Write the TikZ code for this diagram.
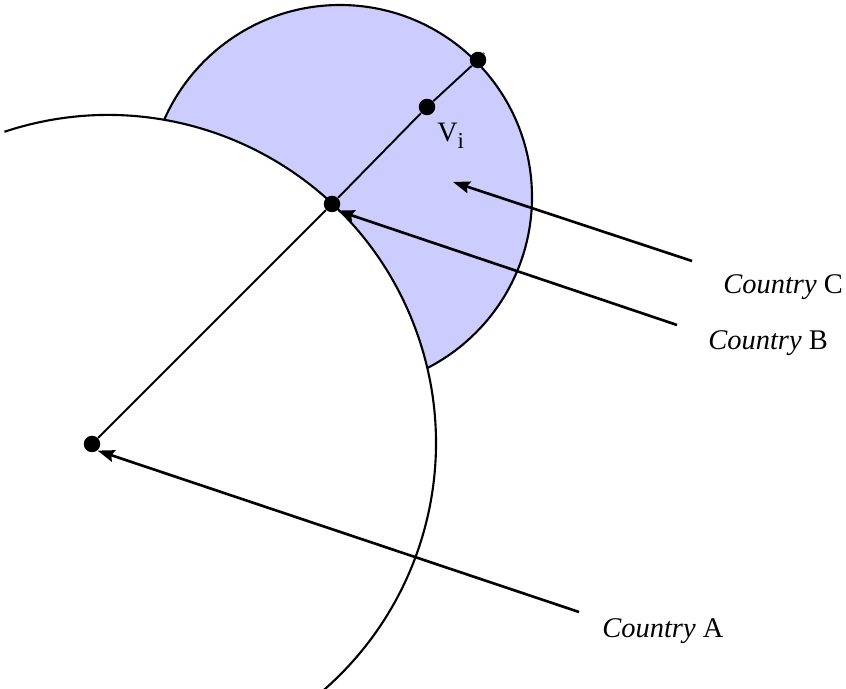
\documentclass[tikz,border=0pt]{standalone}
\usepackage{fontspec}
\setmainfont{Liberation Serif}
\usepackage{tikz}
\usetikzlibrary{arrows.meta,calc}
\definecolor{regionblue}{HTML}{CCCCFF}

\begin{document}
\begin{tikzpicture}[
    dot/.style={circle,fill=black,inner sep=0pt,minimum size=0.33cm},
    pointer/.style={line width=1.5pt,-{Stealth[length=0.34cm,width=0.24cm,inset=0.05cm]}},
    country/.style={anchor=base west,inner sep=0pt,font=\fontsize{16.2}{19}\selectfont}
  ]
    \useasboundingbox (0,0) rectangle (16.92,13.78);
    % shaded part of the small circle
    \fill[regionblue,draw=black,line width=1.2pt] (6.80,9.84) circle (3.84);
    \fill[white] (2.16,4.92) circle (6.56);
    \draw[line width=1.2pt] (2.16,4.92) ++(108.4:6.56) arc (108.4:-55:6.56);
    % points on the radial line
    \node[dot] (a) at (1.84,4.90) {};
    \node[dot] (b) at (6.64,9.70) {};
    \node[dot] (v) at (8.54,11.64) {};
    \node[dot] (c) at (9.56,12.58) {};
    \coordinate (lineend) at (9.68,12.72);
    \draw[line width=1.1pt] (a) -- (b) -- (v) -- (c) -- (lineend);
    \node[anchor=north west,inner sep=0pt,font=\fontsize{16}{19}\selectfont] (vlabel) at ($(v)+(0.2,-0.32)$) {V\raisebox{-0.55ex}{\fontsize{13}{15}\selectfont i}};
    % labels and pointers
    \node[country] (countrya) at (12.04,1.02) {\textit{Country} A};
    \node[country] (countryb) at (14.16,6.78) {\textit{Country} B};
    \node[country] (countryc) at (14.46,7.90) {\textit{Country} C};
    \coordinate (taila) at (11.58,1.54);
    \coordinate (tailb) at (13.54,7.28);
    \coordinate (tailc) at (13.84,8.56);
    \coordinate (tipc) at (9.06,10.14);
    \draw[pointer] (taila) -- (a.-50);
    \draw[pointer] (tailb) -- (b.-50);
    \draw[pointer] (tailc) -- (tipc);
  \end{tikzpicture}
\end{document}
